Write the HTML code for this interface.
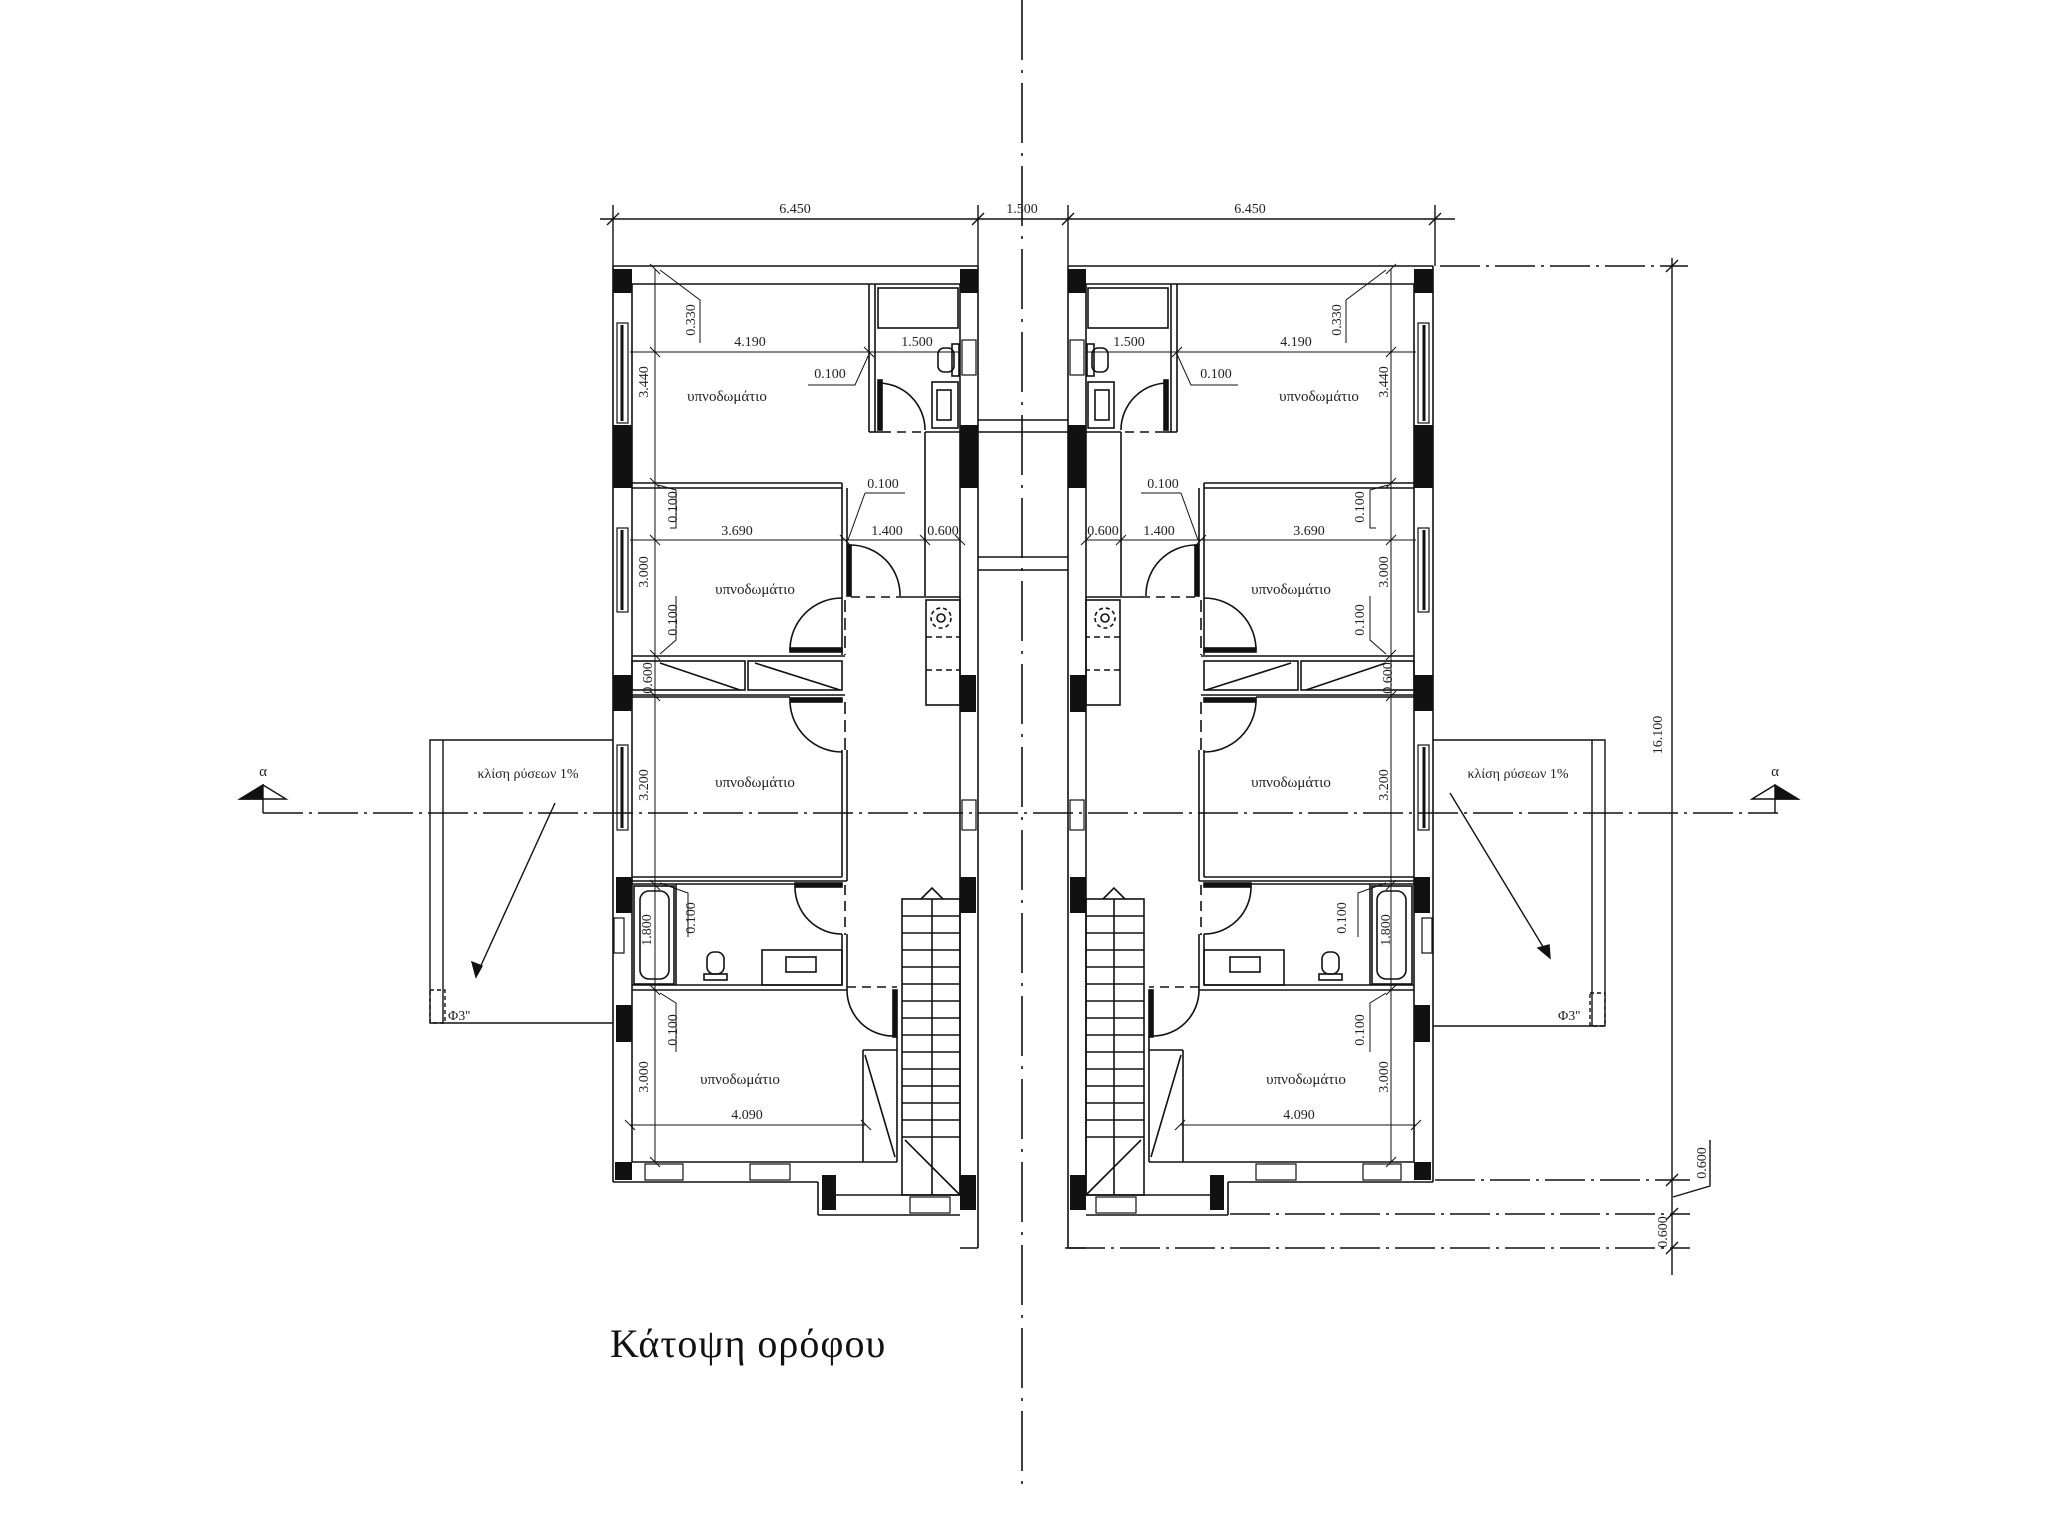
<!DOCTYPE html>
<html><head><meta charset="utf-8"><style>
html,body{margin:0;padding:0;background:#fff;}
svg{display:block;}
text{font-family:"Liberation Serif",serif;fill:#222;}
.d{font-size:14px;}
.r{font-size:15px;}
</style></head><body>
<svg width="2048" height="1536" viewBox="0 0 2048 1536" xmlns="http://www.w3.org/2000/svg">
<defs>
<g id="plan" stroke="#111" stroke-width="1.6" fill="none">
  <line x1="613" y1="266" x2="978" y2="266"/>
  <line x1="632" y1="284" x2="960" y2="284"/>
  <line x1="613" y1="266" x2="613" y2="1182"/>
  <line x1="632" y1="284" x2="632" y2="1162"/>
  <line x1="978" y1="266" x2="978" y2="1248"/>
  <line x1="960" y1="284" x2="960" y2="1195"/>
  <line x1="613" y1="1182" x2="818" y2="1182"/>
  <line x1="632" y1="1162" x2="897" y2="1162"/>
  <line x1="818" y1="1182" x2="818" y2="1215"/>
  <line x1="818" y1="1215" x2="960" y2="1215"/>
  <line x1="835" y1="1195" x2="960" y2="1195"/>
  <line x1="835" y1="1182" x2="835" y2="1195"/>
  <line x1="960" y1="1248" x2="978" y2="1248"/>
  <g fill="#111" stroke="none">
    <rect x="613" y="269" width="19" height="24"/>
    <rect x="960" y="269" width="18" height="24"/>
    <rect x="613" y="425" width="19" height="63"/>
    <rect x="960" y="425" width="18" height="63"/>
    <rect x="613" y="675" width="19" height="36"/>
    <rect x="960" y="675" width="16" height="37"/>
    <rect x="616" y="877" width="16" height="36"/>
    <rect x="960" y="877" width="16" height="36"/>
    <rect x="616" y="1005" width="16" height="37"/>
    <rect x="615" y="1162" width="17" height="18"/>
    <rect x="822" y="1175" width="14" height="35"/>
    <rect x="960" y="1175" width="16" height="35"/>
  </g>
  <g stroke-width="1.2" fill="#fff">
    <rect x="617" y="323" width="11" height="100"/>
    <rect x="617" y="528" width="11" height="84"/>
    <rect x="617" y="745" width="11" height="85"/>
    <rect x="614" y="918" width="10" height="35"/>
    <rect x="645" y="1164" width="38" height="16"/>
    <rect x="750" y="1164" width="40" height="16"/>
    <rect x="910" y="1197" width="40" height="16"/>
    <rect x="962" y="800" width="14" height="30"/>
    <rect x="962" y="340" width="14" height="35"/>
  </g>
  <line x1="622" y1="325" x2="622" y2="421" stroke-width="3"/>
  <line x1="622" y1="530" x2="622" y2="610" stroke-width="3"/>
  <line x1="622" y1="747" x2="622" y2="828" stroke-width="3"/>
  <line x1="869" y1="284" x2="869" y2="432"/>
  <line x1="875" y1="284" x2="875" y2="432"/>
  <line x1="869" y1="432" x2="882" y2="432"/>
  <rect x="878" y="288" width="80" height="40"/>
  <rect x="878" y="380" width="4" height="50" fill="#111"/>
  <path d="M878 383 A47 47 0 0 1 925 430"/>
  <line x1="882" y1="432" x2="925" y2="432" stroke-dasharray="9 6"/>
  <line x1="925" y1="432" x2="960" y2="432"/>
  <line x1="925" y1="432" x2="925" y2="596"/>
  <rect x="938" y="348" width="16" height="24" rx="6"/>
  <rect x="952" y="344" width="7" height="32"/>
  <rect x="932" y="382" width="26" height="46"/>
  <rect x="937" y="390" width="14" height="30"/>
  <line x1="632" y1="483" x2="842" y2="483"/>
  <line x1="632" y1="488" x2="842" y2="488"/>
  <line x1="842" y1="483" x2="842" y2="655"/>
  <line x1="847" y1="488" x2="847" y2="545"/>
  <rect x="847" y="545" width="4" height="51" fill="#111"/>
  <path d="M851 545 A50 50 0 0 1 900 596"/>
  <line x1="851" y1="597" x2="905" y2="597" stroke-dasharray="9 6"/>
  <line x1="905" y1="597" x2="960" y2="597"/>
  <line x1="845" y1="600" x2="845" y2="655" stroke-dasharray="12 6"/>
  <rect x="790" y="648" width="52" height="4" fill="#111"/>
  <path d="M790 650 A52 52 0 0 1 842 598"/>
  <line x1="632" y1="656" x2="845" y2="656"/>
  <line x1="632" y1="695" x2="845" y2="695"/>
  <rect x="632" y="661" width="113" height="29"/>
  <rect x="748" y="661" width="94" height="29"/>
  <line x1="660" y1="663" x2="740" y2="690"/>
  <line x1="755" y1="663" x2="840" y2="690"/>
  <rect x="926" y="600" width="34" height="105"/>
  <circle cx="941" cy="618" r="10" stroke-dasharray="4 3"/>
  <circle cx="941" cy="618" r="4"/>
  <line x1="926" y1="637" x2="960" y2="637" stroke-dasharray="6 4"/>
  <line x1="926" y1="670" x2="960" y2="670" stroke-dasharray="6 4"/>
  <line x1="632" y1="697" x2="790" y2="697"/>
  <rect x="790" y="698" width="52" height="4" fill="#111"/>
  <path d="M790 702 A52 52 0 0 0 842 752"/>
  <line x1="845" y1="702" x2="845" y2="750" stroke-dasharray="12 6"/>
  <line x1="842" y1="750" x2="842" y2="877"/>
  <line x1="847" y1="750" x2="847" y2="881"/>
  <line x1="632" y1="877" x2="842" y2="877"/>
  <line x1="632" y1="881" x2="847" y2="881"/>
  <line x1="632" y1="884" x2="795" y2="884"/>
  <rect x="795" y="883" width="47" height="4" fill="#111"/>
  <path d="M795 887 A47 47 0 0 0 842 934"/>
  <line x1="845" y1="885" x2="845" y2="935" stroke-dasharray="10 6"/>
  <line x1="842" y1="934" x2="842" y2="985"/>
  <line x1="847" y1="934" x2="847" y2="990"/>
  <rect x="634" y="886" width="40" height="98"/>
  <rect x="640" y="891" width="29" height="88" rx="9"/>
  <line x1="676" y1="884" x2="676" y2="985"/>
  <rect x="707" y="952" width="17" height="22" rx="7"/>
  <rect x="704" y="974" width="23" height="6"/>
  <rect x="762" y="950" width="80" height="35"/>
  <rect x="786" y="957" width="30" height="15"/>
  <line x1="632" y1="985" x2="842" y2="985"/>
  <line x1="632" y1="990" x2="847" y2="990"/>
  <line x1="847" y1="987" x2="897" y2="987" stroke-dasharray="9 6"/>
  <rect x="893" y="990" width="4" height="47" fill="#111"/>
  <path d="M847 990 A46 46 0 0 0 893 1036"/>
  <line x1="863" y1="1050" x2="863" y2="1162"/>
  <line x1="863" y1="1050" x2="897" y2="1050"/>
  <line x1="897" y1="1037" x2="897" y2="1162"/>
  <line x1="865" y1="1055" x2="895" y2="1157"/>
  <rect x="902" y="899" width="58" height="296"/>
  <line x1="932" y1="899" x2="932" y2="1195"/>
  <path d="M902 916 H960 M902 933 H960 M902 950 H960 M902 967 H960 M902 984 H960 M902 1001 H960 M902 1018 H960 M902 1035 H960 M902 1052 H960 M902 1069 H960 M902 1086 H960 M902 1103 H960 M902 1120 H960 M902 1137 H960"/>
  <path d="M921 899 L932 888 L943 899"/>
  <line x1="905" y1="1140" x2="960" y2="1195"/>
  <g stroke-width="1">
    <line x1="655" y1="269" x2="655" y2="1162"/>
    <line x1="630" y1="352" x2="960" y2="352"/>
    <line x1="630" y1="540" x2="960" y2="540"/>
    <line x1="630" y1="1125" x2="866" y2="1125"/>
    <path d="M650 264 L660 274 M650 347 L660 357 M650 478 L660 488 M650 535 L660 545 M650 650 L660 660 M650 691 L660 701 M650 880 L660 890 M650 985 L660 995 M650 1157 L660 1167"/>
    <path d="M864 347 L874 357 M840 535 L850 545 M920 535 L930 545 M955 535 L965 545 M625 1120 L635 1130 M861 1120 L871 1130"/>
    <path d="M700 343 V300 L660 270"/>
    <path d="M808 385 H855 L870 352"/>
    <path d="M865 493 H905 M865 493 L848 540"/>
    <path d="M670 528 H676 V490 L658 485"/>
    <path d="M676 596 V640 L660 654"/>
    <path d="M688 937 V893 L660 883"/>
    <path d="M676 1052 V1003 L660 993"/>
  </g>
</g>
</defs>

<line x1="1022" y1="0" x2="1022" y2="1485" stroke="#111" stroke-width="1.6" stroke-dasharray="60 10 3 10"/>

<use href="#plan"/>
<use href="#plan" transform="translate(2046,0) scale(-1,1)"/>

<g stroke="#111" stroke-width="1.4">
  <line x1="978" y1="420" x2="1068" y2="420"/>
  <line x1="978" y1="432" x2="1068" y2="432"/>
  <line x1="978" y1="557" x2="1068" y2="557"/>
  <line x1="978" y1="570" x2="1068" y2="570"/>
</g>

<g stroke="#111" stroke-width="1.4" fill="none">
  <line x1="600" y1="219" x2="1455" y2="219"/>
  <line x1="613" y1="205" x2="613" y2="266"/>
  <line x1="978" y1="205" x2="978" y2="266"/>
  <line x1="1068" y1="205" x2="1068" y2="266"/>
  <line x1="1435" y1="205" x2="1435" y2="266"/>
  <path d="M607 225 L619 213 M972 225 L984 213 M1062 225 L1074 213 M1429 225 L1441 213"/>
</g>
<text class="d" x="795" y="213" text-anchor="middle">6.450</text>
<text class="d" x="1022" y="213" text-anchor="middle">1.500</text>
<text class="d" x="1250" y="213" text-anchor="middle">6.450</text>

<line x1="263" y1="813" x2="1778" y2="813" stroke="#111" stroke-width="1.4" stroke-dasharray="40 6 3 6"/>
<g stroke="#111" stroke-width="1.4">
  <line x1="263" y1="799" x2="263" y2="813"/>
  <line x1="1775" y1="799" x2="1775" y2="813"/>
  <path d="M240 799 L263 785 L286 799 Z" fill="#fff"/>
  <path d="M240 799 L263 785 L263 799 Z" fill="#111"/>
  <path d="M1752 799 L1775 785 L1798 799 Z" fill="#fff"/>
  <path d="M1775 785 L1798 799 L1775 799 Z" fill="#111"/>
</g>
<text x="263" y="776" font-size="15" text-anchor="middle">α</text>
<text x="1775" y="776" font-size="15" text-anchor="middle">α</text>

<g stroke="#111" stroke-width="1.4" fill="none">
  <path d="M613 740 H430 V1023 H613"/>
  <line x1="443" y1="740" x2="443" y2="1023"/>
  <rect x="430" y="990" width="15" height="33" stroke-dasharray="4 3"/>
  <line x1="555" y1="803" x2="478" y2="972"/>
  <path d="M476 977 L472 962 L482 966 Z" fill="#111"/>
  <path d="M1433 740 H1605 V1026 H1433"/>
  <line x1="1592" y1="740" x2="1592" y2="1026"/>
  <rect x="1590" y="993" width="15" height="33" stroke-dasharray="4 3"/>
  <line x1="1450" y1="793" x2="1548" y2="955"/>
  <path d="M1550 958 L1538 948 L1549 945 Z" fill="#111"/>
</g>
<text class="d" x="528" y="778" text-anchor="middle">κλίση ρύσεων 1%</text>
<text class="d" x="1518" y="778" text-anchor="middle">κλίση ρύσεων 1%</text>
<text class="d" x="448" y="1020">Φ3''</text>
<text class="d" x="1558" y="1020">Φ3''</text>

<g stroke="#111" stroke-width="1.4" fill="none">
  <line x1="1672" y1="258" x2="1672" y2="1275"/>
  <line x1="1440" y1="266" x2="1688" y2="266" stroke-dasharray="40 6 3 6"/>
  <line x1="1435" y1="1180" x2="1690" y2="1180" stroke-dasharray="40 6 3 6"/>
  <line x1="1230" y1="1214" x2="1690" y2="1214" stroke-dasharray="40 6 3 6"/>
  <line x1="1065" y1="1248" x2="1690" y2="1248" stroke-dasharray="40 6 3 6"/>
  <path d="M1666 272 L1678 260 M1666 1186 L1678 1174 M1666 1220 L1678 1208 M1666 1254 L1678 1242"/>
  <path d="M1673 1197 L1710 1186 V1140"/>
</g>
<text class="d" transform="translate(1662,735) rotate(-90)" text-anchor="middle">16.100</text>
<text class="d" transform="translate(1706,1163) rotate(-90)" text-anchor="middle">0.600</text>
<text class="d" transform="translate(1667,1232) rotate(-90)" text-anchor="middle">0.600</text>

<g>
<text class="r" x="727" y="401" text-anchor="middle">υπνοδωμάτιο</text>
<text class="r" x="755" y="594" text-anchor="middle">υπνοδωμάτιο</text>
<text class="r" x="755" y="787" text-anchor="middle">υπνοδωμάτιο</text>
<text class="r" x="740" y="1084" text-anchor="middle">υπνοδωμάτιο</text>
<text class="d" x="750" y="346" text-anchor="middle">4.190</text>
<text class="d" x="917" y="346" text-anchor="middle">1.500</text>
<text class="d" x="830" y="378" text-anchor="middle">0.100</text>
<text class="d" x="883" y="488" text-anchor="middle">0.100</text>
<text class="d" x="737" y="535" text-anchor="middle">3.690</text>
<text class="d" x="887" y="535" text-anchor="middle">1.400</text>
<text class="d" x="943" y="535" text-anchor="middle">0.600</text>
<text class="d" x="747" y="1119" text-anchor="middle">4.090</text>
<text class="d" transform="translate(695,320) rotate(-90)" text-anchor="middle">0.330</text>
<text class="d" transform="translate(648,382) rotate(-90)" text-anchor="middle">3.440</text>
<text class="d" transform="translate(677,507) rotate(-90)" text-anchor="middle">0.100</text>
<text class="d" transform="translate(648,572) rotate(-90)" text-anchor="middle">3.000</text>
<text class="d" transform="translate(677,620) rotate(-90)" text-anchor="middle">0.100</text>
<text class="d" transform="translate(652,678) rotate(-90)" text-anchor="middle">0.600</text>
<text class="d" transform="translate(648,785) rotate(-90)" text-anchor="middle">3.200</text>
<text class="d" transform="translate(695,918) rotate(-90)" text-anchor="middle">0.100</text>
<text class="d" transform="translate(651,930) rotate(-90)" text-anchor="middle">1.800</text>
<text class="d" transform="translate(677,1030) rotate(-90)" text-anchor="middle">0.100</text>
<text class="d" transform="translate(648,1077) rotate(-90)" text-anchor="middle">3.000</text>
</g>
<g>
<text class="r" x="1319" y="401" text-anchor="middle">υπνοδωμάτιο</text>
<text class="r" x="1291" y="594" text-anchor="middle">υπνοδωμάτιο</text>
<text class="r" x="1291" y="787" text-anchor="middle">υπνοδωμάτιο</text>
<text class="r" x="1306" y="1084" text-anchor="middle">υπνοδωμάτιο</text>
<text class="d" x="1296" y="346" text-anchor="middle">4.190</text>
<text class="d" x="1129" y="346" text-anchor="middle">1.500</text>
<text class="d" x="1216" y="378" text-anchor="middle">0.100</text>
<text class="d" x="1163" y="488" text-anchor="middle">0.100</text>
<text class="d" x="1309" y="535" text-anchor="middle">3.690</text>
<text class="d" x="1159" y="535" text-anchor="middle">1.400</text>
<text class="d" x="1103" y="535" text-anchor="middle">0.600</text>
<text class="d" x="1299" y="1119" text-anchor="middle">4.090</text>
<text class="d" transform="translate(1341,320) rotate(-90)" text-anchor="middle">0.330</text>
<text class="d" transform="translate(1388,382) rotate(-90)" text-anchor="middle">3.440</text>
<text class="d" transform="translate(1364,507) rotate(-90)" text-anchor="middle">0.100</text>
<text class="d" transform="translate(1388,572) rotate(-90)" text-anchor="middle">3.000</text>
<text class="d" transform="translate(1364,620) rotate(-90)" text-anchor="middle">0.100</text>
<text class="d" transform="translate(1392,678) rotate(-90)" text-anchor="middle">0.600</text>
<text class="d" transform="translate(1388,785) rotate(-90)" text-anchor="middle">3.200</text>
<text class="d" transform="translate(1346,918) rotate(-90)" text-anchor="middle">0.100</text>
<text class="d" transform="translate(1390,930) rotate(-90)" text-anchor="middle">1.800</text>
<text class="d" transform="translate(1364,1030) rotate(-90)" text-anchor="middle">0.100</text>
<text class="d" transform="translate(1388,1077) rotate(-90)" text-anchor="middle">3.000</text>
</g>

<text x="610" y="1357" font-size="40" letter-spacing="1" style="fill:#111">Κάτοψη ορόφου</text>
</svg>
</body></html>
